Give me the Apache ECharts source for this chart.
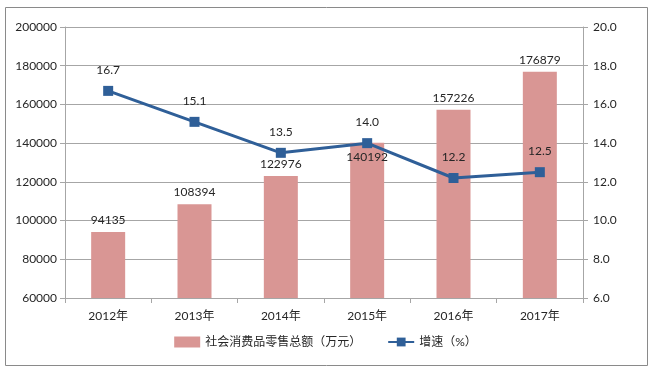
<!DOCTYPE html>
<html><head><meta charset="utf-8">
<script src="https://cdn.jsdelivr.net/npm/echarts@6/dist/echarts.min.js"></script>
<style>html,body{margin:0;padding:0;background:#fff}#c{width:651px;height:369px}</style>
</head><body><div id="c"></div>
<script>
const categories = ['2012年','2013年','2014年','2015年','2016年','2017年'];
const salesValues = [94135, 108394, 122976, 140192, 157226, 176879];
const growthValues = [16.7, 15.1, 13.5, 14.0, 12.2, 12.5];
const barName = '社会消费品零售总额（万元）';
const lineName = '增速（%）';

const FONT = "Lato, 'Noto Sans CJK SC', sans-serif";
const TXT = '#262626';
const GRID = '#a6a6a6';

const chart = echarts.init(document.getElementById('c'), null, {renderer:'canvas'});
chart.setOption({
  animation: false,
  textStyle: {fontFamily: FONT},
  graphic: [{
    type: 'rect', left: 3, top: 5, shape: {width: 642, height: 358},
    style: {fill: 'none', stroke: '#8a8a8a', lineWidth: 1}, silent: true
  }],
  grid: {left: 65, right: 68, top: 27, bottom: 71},
  legend: {
    bottom: 16, left: 'center', itemGap: 26, itemWidth: 26, itemHeight: 11,
    textStyle: {fontFamily: FONT, fontSize: 12, color: TXT},
    data: [
      {name: barName, icon: 'rect'},
      {name: lineName}
    ]
  },
  xAxis: {
    type: 'category', data: categories,
    axisLine: {lineStyle: {color: GRID, width: 1}},
    axisTick: {show: true, length: 5, lineStyle: {color: GRID}},
    axisLabel: {color: TXT, fontSize: 12, fontFamily: FONT, margin: 12}
  },
  yAxis: [{
    type: 'value', min: 60000, max: 200000, interval: 20000,
    axisLine: {show: true, lineStyle: {color: GRID}},
    axisTick: {show: true, length: 5, lineStyle: {color: GRID}},
    splitLine: {lineStyle: {color: GRID, width: 1}},
    axisLabel: {color: TXT, fontSize: 12, fontFamily: FONT, margin: 8,
      formatter: v => String(v)}
  }, {
    type: 'value', min: 6, max: 20, interval: 2,
    axisLine: {show: true, lineStyle: {color: GRID}},
    axisTick: {show: true, length: 5, lineStyle: {color: GRID}},
    splitLine: {show: false},
    axisLabel: {color: TXT, fontSize: 12, fontFamily: FONT, margin: 10,
      formatter: v => v.toFixed(1)}
  }],
  series: [{
    name: barName, type: 'bar', yAxisIndex: 0, barWidth: 34,
    itemStyle: {color: '#d99694'},
    data: salesValues.map((v, i) => i === 3 ? {
      value: v,
      label: {position: 'insideTop', distance: 8}
    } : v),
    label: {show: true, position: 'top', distance: 6, color: TXT, fontSize: 12, fontFamily: FONT},
    z: 2
  }, {
    name: lineName, type: 'line', yAxisIndex: 1, data: growthValues,
    symbol: 'rect', symbolSize: 10,
    lineStyle: {color: '#2f5f98', width: 3},
    itemStyle: {color: '#2f5f98'},
    label: {show: true, position: 'top', distance: 10, color: TXT, fontSize: 12, fontFamily: FONT,
      formatter: p => p.value.toFixed(1)},
    z: 5
  }]
});
</script></body></html>
